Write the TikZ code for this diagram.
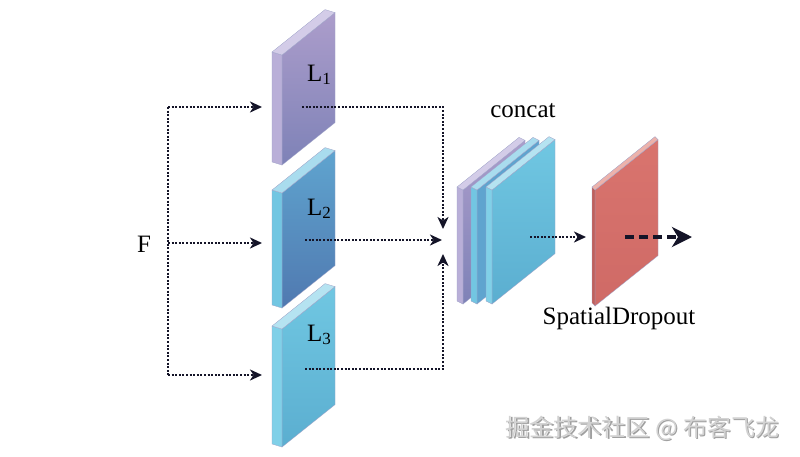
\documentclass[tikz,border=0pt]{standalone}
\usepackage{fontspec}
\setmainfont{Liberation Serif}
\newfontfamily\cjk{Noto Sans CJK SC}
\usetikzlibrary{arrows.meta}
\definecolor{slabedge}{HTML}{9FA3C8}
\definecolor{lonet}{HTML}{AC9DCB}
\definecolor{loneb}{HTML}{7E82B7}
\definecolor{lones}{HTML}{B9AFD8}
\definecolor{lonetop}{HTML}{D3CCE8}
\definecolor{ltwot}{HTML}{5FA4CF}
\definecolor{ltwob}{HTML}{5079B0}
\definecolor{ltwos}{HTML}{72C6E2}
\definecolor{ltwotop}{HTML}{A9DCEE}
\definecolor{lthrt}{HTML}{70C7E2}
\definecolor{lthrb}{HTML}{5BAED0}
\definecolor{lthrs}{HTML}{80D0E8}
\definecolor{lthrtop}{HTML}{B5E3F1}
\definecolor{redt}{HTML}{D9746E}
\definecolor{redb}{HTML}{CF6A66}
\definecolor{reds}{HTML}{C05F5B}
\definecolor{redtop}{HTML}{EDB2AB}
\definecolor{arrowcol}{HTML}{141428}
\newcommand\drawslab[9]{%
\shade[top color=#6,bottom color=#7,draw=slabedge,line width=.3pt] ({#1+#4},{#2+3}) -- ++({#5},{-0.8*#5}) -- ++(0,{#3}) -- ++({-#5},{0.8*#5}) -- cycle;
\fill[#8,draw=slabedge,line width=.3pt] (#1,#2) -- ({#1+#4},{#2+3}) -- ++(0,{#3}) -- ({#1},{#2+#3}) -- cycle;
\fill[#9,draw=slabedge,line width=.3pt] (#1,#2) -- ++({#5},{-0.8*#5}) -- ++({#4},3) -- ({#1+#4},{#2+3}) -- cycle;
}
\newcommand\Lsub[1]{L\raisebox{-3pt}{\fontsize{17}{17}\selectfont #1}}
\tikzset{
  lbl/.style={font=\fontsize{25}{30}\selectfont, inner sep=0pt},
  dotarrow/.style={arrowcol, line width=2pt, dash pattern=on 2pt off 1.6pt, -{Stealth[length=12pt,width=11pt,inset=3.5pt]}},
  dotline/.style={arrowcol, line width=2pt, dash pattern=on 2pt off 1.6pt},
  dasharrow/.style={arrowcol, line width=3.5pt, dash pattern=on 9pt off 5pt, -{Stealth[length=20pt,width=20pt,inset=6pt]}},
}
\begin{document}
\begin{tikzpicture}[x=1pt,y=-1pt]
\useasboundingbox (0,0) rectangle (800,456);
\fill[white] (0,0) rectangle (800,456);
% slabs
\drawslab{272}{52}{110}{10}{53}{lonet}{loneb}{lones}{lonetop}
\drawslab{272}{190}{115}{10}{53}{ltwot}{ltwob}{ltwos}{ltwotop}
\drawslab{272}{326}{118}{10}{53}{lthrt}{lthrb}{lthrs}{lthrtop}
% concat stack
\drawslab{457}{187}{114}{6}{62}{lonet}{loneb}{lones}{lonetop}
\drawslab{471}{187}{114}{6}{62}{ltwot}{ltwot}{ltwos}{ltwotop}
\drawslab{486}{187}{114}{6}{63}{lthrt}{lthrb}{lthrs}{lthrtop}
% red slab
\drawslab{592}{187}{116}{3}{63}{redt}{redb}{reds}{redtop}
% labels
\node[lbl] (F) at (144,244) {F};
\node[lbl] (L1) at (319,75) {\Lsub{1}};
\node[lbl] (L2) at (319,209) {\Lsub{2}};
\node[lbl] (L3) at (319,335) {\Lsub{3}};
\node[lbl] (concat) at (523,111) {concat};
\node[lbl] (sd) at (619,318) {SpatialDropout};
\node[font=\cjk\fontsize{24}{28}\selectfont, text=gray!75, inner sep=0pt] at (643.8,429.8) {掘金技术社区 @ 布客飞龙};
\node[font=\cjk\fontsize{24}{28}\selectfont, text=gray!35, inner sep=0pt] (wm) at (642.5,428.5) {掘金技术社区 @ 布客飞龙};
% coordinates
\coordinate (b1) at (168,107);
\coordinate (b2) at (168,243);
\coordinate (b3) at (168,375);
\coordinate (in1) at (262,107);
\coordinate (in2) at (262,243);
\coordinate (in3) at (262,375);
\coordinate (o1) at (302,107);
\coordinate (o2) at (305,240);
\coordinate (o3) at (305,369);
\coordinate (c1) at (443,107);
\coordinate (c3) at (443,369);
\coordinate (m1) at (443,229);
\coordinate (m2) at (442,240);
\coordinate (m3) at (443,254);
\coordinate (cs) at (530,237);
\coordinate (ri) at (586,237);
\coordinate (ro) at (625,237);
\coordinate (out) at (692,237);
% connectors
\draw[dotline] (b1) -- (b3);
\draw[dotarrow] (b1) -- (in1);
\draw[dotarrow] (b2) -- (in2);
\draw[dotarrow] (b3) -- (in3);
\draw[dotarrow] (o1) -- (c1) -- (m1);
\draw[dotarrow] (o2) -- (m2);
\draw[dotarrow] (o3) -- (c3) -- (m3);
\draw[dotarrow] (cs) -- (ri);
\draw[dasharrow] (ro) -- (out);
\end{tikzpicture}
\end{document}
